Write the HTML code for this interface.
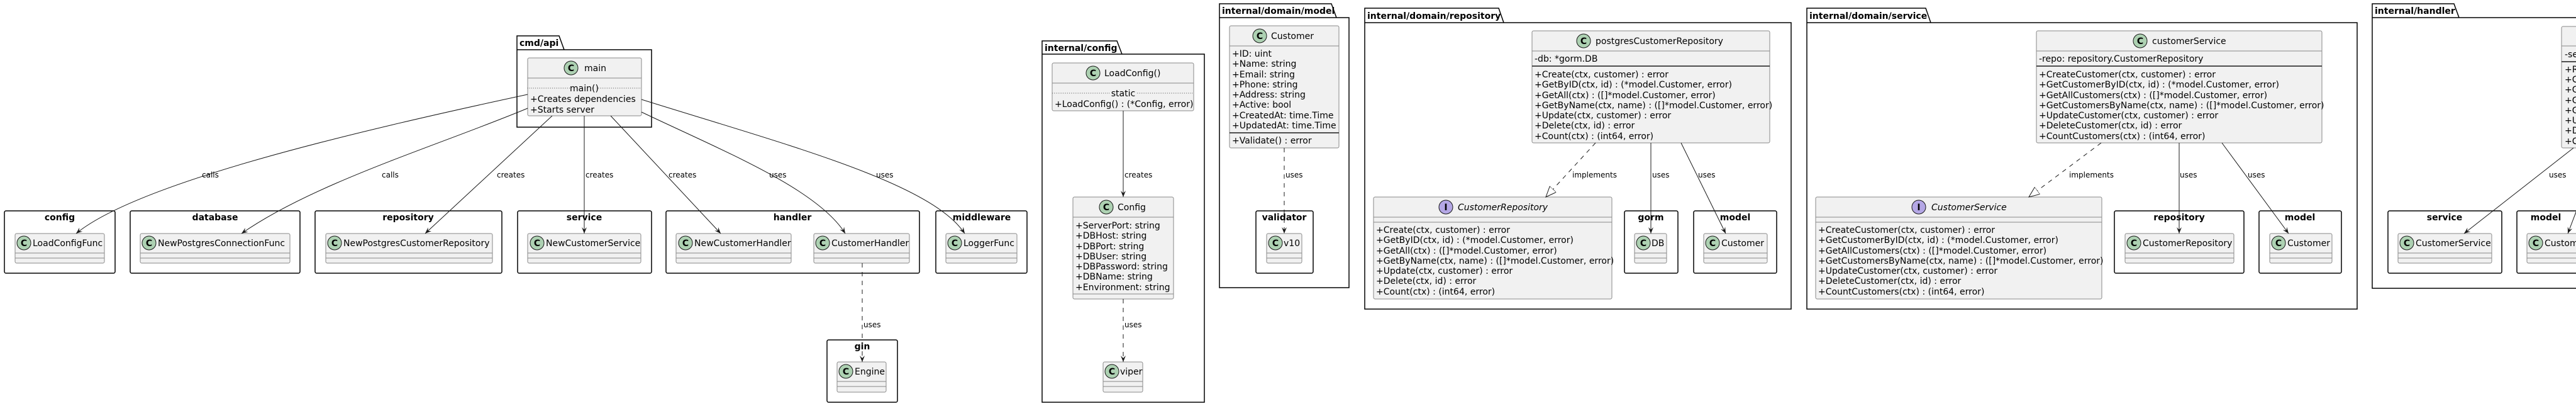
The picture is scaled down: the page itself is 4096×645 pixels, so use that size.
<!DOCTYPE html>
<html><head><meta charset="utf-8"><style>
html,body{margin:0;padding:0;background:#fff;width:4096px;height:645px;overflow:hidden}
svg{display:block}
text{font-family:"DejaVu Sans","Liberation Sans",sans-serif;fill:#000}
.t{font-size:14px}
.e{font-size:12px}
.p{font-size:14px;font-weight:bold}
.cls{fill:#F1F1F1;stroke:#888;stroke-width:1}
.sep{stroke:#888;stroke-width:1}
.thick{stroke:#181818;stroke-width:1.5}
.pkg{fill:none;stroke:#000;stroke-width:1.5}
.ci{fill:#ADD1B2;stroke:#181818;stroke-width:1}
.ii{fill:#B4A7E5;stroke:#181818;stroke-width:1}
.cl{font-size:14px;font-weight:bold;text-anchor:middle}
.edge{fill:none;stroke:#181818;stroke-width:1}
.dash{fill:none;stroke:#181818;stroke-width:1;stroke-dasharray:7,7}
.dot{stroke:#555;stroke-width:1;stroke-dasharray:1,2}
</style></head><body>
<svg width="4096" height="645" viewBox="0 0 4096 645" xmlns="http://www.w3.org/2000/svg">
<defs>
<marker id="a" markerWidth="12" markerHeight="10" refX="10" refY="4" orient="auto" markerUnits="userSpaceOnUse"><path d="M0,0 L10,4 L0,8 L4,4 Z" fill="#181818"/></marker>
<marker id="h" markerWidth="20" markerHeight="16" refX="17" refY="7" orient="auto" markerUnits="userSpaceOnUse"><path d="M0,0 L17,7 L0,14 Z" fill="#fff" stroke="#181818"/></marker>
</defs>

<!-- simple packages -->
<g>
<rect class="pkg" x="7" y="335" width="176" height="99" rx="2.5"/><text class="p" x="95" y="350" text-anchor="middle">config</text>
<rect class="pkg" x="207" y="335" width="270" height="99" rx="2.5"/><text class="p" x="342" y="350" text-anchor="middle">database</text>
<rect class="pkg" x="501" y="335" width="297" height="99" rx="2.5"/><text class="p" x="649" y="350" text-anchor="middle">repository</text>
<rect class="pkg" x="823" y="335" width="213" height="99" rx="2.5"/><text class="p" x="929" y="350" text-anchor="middle">service</text>
<rect class="pkg" x="1059" y="335" width="403" height="99" rx="2.5"/><text class="p" x="1260" y="350" text-anchor="middle">handler</text>
<rect class="pkg" x="1488" y="335" width="145" height="99" rx="2.5"/><text class="p" x="1561" y="350" text-anchor="middle">middleware</text>
<rect class="pkg" x="1315" y="540" width="112" height="99" rx="2.5"/><text class="p" x="1371" y="555" text-anchor="middle">gin</text>
<rect class="pkg" x="1997" y="335" width="91" height="99" rx="2.5"/><text class="p" x="2042" y="350" text-anchor="middle">validator</text>
<rect class="pkg" x="2583" y="335" width="85" height="99" rx="2.5"/><text class="p" x="2625" y="350" text-anchor="middle">gorm</text>
<rect class="pkg" x="2693" y="335" width="132" height="99" rx="2.5"/><text class="p" x="2759" y="350" text-anchor="middle">model</text>
<rect class="pkg" x="3362" y="335" width="206" height="99" rx="2.5"/><text class="p" x="3465" y="350" text-anchor="middle">repository</text>
<rect class="pkg" x="3592" y="335" width="131" height="99" rx="2.5"/><text class="p" x="3657" y="350" text-anchor="middle">model</text>
<rect class="pkg" x="3797" y="335" width="181" height="99" rx="2.5"/><text class="p" x="3887" y="350" text-anchor="middle">service</text>
<rect class="pkg" x="4002" y="335" width="150" height="99" rx="2.5"/><text class="p" x="4048" y="350" text-anchor="middle">model</text>
</g>

<!-- tab packages -->
<g>
<path class="pkg" d="M822,79 L822,57 L889,57 L897,79 M822,79 L1036,79 L1036,202 L822,202 Z"/><text class="p" x="826" y="73">cmd/api</text>
<path class="pkg" d="M1657,86 L1657,65 L1776,65 L1784,86 M1657,86 L1915,86 L1915,639 L1657,639 Z"/><text class="p" x="1661" y="81">internal/config</text>
<path class="pkg" d="M1939,28 L1939,6 L2117,6 L2125,28 M1939,28 L2145,28 L2145,457 L1939,457 Z"/><text class="p" x="1943" y="22">internal/domain/model</text>
<path class="pkg" d="M2170,36 L2170,13 L2383,13 L2391,36 M2170,36 L2848,36 L2848,491 L2170,491 Z"/><text class="p" x="2174" y="30">internal/domain/repository</text>
<path class="pkg" d="M2873,36 L2873,13 L3062,13 L3070,36 M2873,36 L3748,36 L3748,491 L2873,491 Z"/><text class="p" x="2877" y="30">internal/domain/service</text>
<path class="pkg" d="M3772,28 L3772,6 L3902,6 L3910,28 M3772,28 L4150,28 L4150,458 L3772,458 Z"/><text class="p" x="3776" y="22">internal/handler</text>
</g>

<!-- empty classes -->
<g>
<rect class="cls" x="24" y="371" width="142" height="47" rx="2.5"/><line class="sep" x1="24" y1="402" x2="166" y2="402"/><line class="sep" x1="24" y1="410" x2="166" y2="410"/><circle class="ci" cx="38" cy="386" r="11"/><text class="cl" x="38" y="391">C</text><text class="t" x="52" y="391">LoadConfigFunc</text>
<rect class="cls" x="223" y="371" width="238" height="47" rx="2.5"/><line class="sep" x1="223" y1="402" x2="461" y2="402"/><line class="sep" x1="223" y1="410" x2="461" y2="410"/><circle class="ci" cx="237" cy="386" r="11"/><text class="cl" x="237" y="391">C</text><text class="t" x="251" y="391">NewPostgresConnectionFunc</text>
<rect class="cls" x="518" y="371" width="265" height="47" rx="2.5"/><line class="sep" x1="518" y1="402" x2="783" y2="402"/><line class="sep" x1="518" y1="410" x2="783" y2="410"/><circle class="ci" cx="532" cy="386" r="11"/><text class="cl" x="532" y="391">C</text><text class="t" x="546" y="391">NewPostgresCustomerRepository</text>
<rect class="cls" x="839" y="371" width="180" height="47" rx="2.5"/><line class="sep" x1="839" y1="402" x2="1019" y2="402"/><line class="sep" x1="839" y1="410" x2="1019" y2="410"/><circle class="ci" cx="854" cy="386" r="11"/><text class="cl" x="854" y="391">C</text><text class="t" x="868" y="391">NewCustomerService</text>
<rect class="cls" x="1075" y="371" width="183" height="47" rx="2.5"/><line class="sep" x1="1075" y1="402" x2="1258" y2="402"/><line class="sep" x1="1075" y1="410" x2="1258" y2="410"/><circle class="ci" cx="1090" cy="386" r="11"/><text class="cl" x="1090" y="391">C</text><text class="t" x="1104" y="391">NewCustomerHandler</text>
<rect class="cls" x="1294" y="371" width="152" height="47" rx="2.5"/><line class="sep" x1="1294" y1="402" x2="1446" y2="402"/><line class="sep" x1="1294" y1="410" x2="1446" y2="410"/><circle class="ci" cx="1308" cy="386" r="11"/><text class="cl" x="1308" y="391">C</text><text class="t" x="1322" y="391">CustomerHandler</text>
<rect class="cls" x="1504" y="371" width="113" height="47" rx="2.5"/><line class="sep" x1="1504" y1="402" x2="1617" y2="402"/><line class="sep" x1="1504" y1="410" x2="1617" y2="410"/><circle class="ci" cx="1518" cy="386" r="11"/><text class="cl" x="1518" y="391">C</text><text class="t" x="1532" y="391">LoggerFunc</text>
<rect class="cls" x="1331" y="575" width="78" height="48" rx="2.5"/><line class="sep" x1="1331" y1="606" x2="1409" y2="606"/><line class="sep" x1="1331" y1="614" x2="1409" y2="614"/><circle class="ci" cx="1345" cy="590" r="11"/><text class="cl" x="1345" y="595">C</text><text class="t" x="1359" y="595">Engine</text>
<rect class="cls" x="1754" y="575" width="63" height="48" rx="2.5"/><line class="sep" x1="1754" y1="606" x2="1817" y2="606"/><line class="sep" x1="1754" y1="614" x2="1817" y2="614"/><circle class="ci" cx="1768" cy="590" r="11"/><text class="cl" x="1768" y="595">C</text><text class="t" x="1781" y="595">viper</text>
<rect class="cls" x="2014" y="371" width="56" height="47" rx="2.5"/><line class="sep" x1="2014" y1="402" x2="2070" y2="402"/><line class="sep" x1="2014" y1="410" x2="2070" y2="410"/><circle class="ci" cx="2028" cy="386" r="11"/><text class="cl" x="2028" y="391">C</text><text class="t" x="2041" y="391">v10</text>
<rect class="cls" x="2599" y="371" width="51" height="47" rx="2.5"/><line class="sep" x1="2599" y1="402" x2="2650" y2="402"/><line class="sep" x1="2599" y1="410" x2="2650" y2="410"/><circle class="ci" cx="2613" cy="386" r="11"/><text class="cl" x="2613" y="391">C</text><text class="t" x="2626" y="391">DB</text>
<rect class="cls" x="2709" y="371" width="101" height="47" rx="2.5"/><line class="sep" x1="2709" y1="402" x2="2810" y2="402"/><line class="sep" x1="2709" y1="410" x2="2810" y2="410"/><circle class="ci" cx="2723" cy="386" r="11"/><text class="cl" x="2723" y="391">C</text><text class="t" x="2737" y="391">Customer</text>
<rect class="cls" x="3379" y="371" width="173" height="47" rx="2.5"/><line class="sep" x1="3379" y1="402" x2="3552" y2="402"/><line class="sep" x1="3379" y1="410" x2="3552" y2="410"/><circle class="ci" cx="3393" cy="386" r="11"/><text class="cl" x="3393" y="391">C</text><text class="t" x="3407" y="391">CustomerRepository</text>
<rect class="cls" x="3609" y="371" width="99" height="47" rx="2.5"/><line class="sep" x1="3609" y1="402" x2="3708" y2="402"/><line class="sep" x1="3609" y1="410" x2="3708" y2="410"/><circle class="ci" cx="3623" cy="386" r="11"/><text class="cl" x="3623" y="391">C</text><text class="t" x="3637" y="391">Customer</text>
<rect class="cls" x="3813" y="371" width="149" height="47" rx="2.5"/><line class="sep" x1="3813" y1="402" x2="3962" y2="402"/><line class="sep" x1="3813" y1="410" x2="3962" y2="410"/><circle class="ci" cx="3827" cy="386" r="11"/><text class="cl" x="3827" y="391">C</text><text class="t" x="3841" y="391">CustomerService</text>
<rect class="cls" x="4018" y="371" width="101" height="47" rx="2.5"/><line class="sep" x1="4018" y1="402" x2="4119" y2="402"/><line class="sep" x1="4018" y1="410" x2="4119" y2="410"/><circle class="ci" cx="4032" cy="386" r="11"/><text class="cl" x="4032" y="391">C</text><text class="t" x="4046" y="391">Customer</text>
</g>

<!-- main -->
<rect class="cls" x="839" y="92" width="181" height="92" rx="2.5"/>
<line class="sep" x1="839" y1="124" x2="1020" y2="124"/>
<circle class="ci" cx="908" cy="108" r="11"/><text class="cl" x="908" y="113">C</text><text class="t" x="929" y="113">main</text>
<line class="dot" x1="839" y1="140" x2="907" y2="140"/><line class="dot" x1="951" y1="140" x2="1020" y2="140"/>
<text class="t" x="929" y="145" text-anchor="middle">main()</text>
<text class="t" x="843" y="162">+Creates dependencies</text>
<text class="t" x="843" y="179">+Starts server</text>

<!-- LoadConfig() -->
<rect class="cls" x="1673" y="100" width="225" height="76" rx="2.5"/>
<line class="sep" x1="1673" y1="132" x2="1898" y2="132"/>
<circle class="ci" cx="1738" cy="116" r="11"/><text class="cl" x="1738" y="121">C</text><text class="t" x="1756" y="121">LoadConfig()</text>
<line class="dot" x1="1673" y1="148" x2="1765" y2="148"/><line class="dot" x1="1808" y1="148" x2="1898" y2="148"/>
<text class="t" x="1786" y="153" text-anchor="middle">static</text>
<text class="t" x="1677" y="170">+LoadConfig() : (*Config, error)</text>

<!-- Config -->
<rect class="cls" x="1706" y="313" width="160" height="162" rx="2.5"/>
<line class="sep" x1="1706" y1="345" x2="1866" y2="345"/>
<line class="sep" x1="1706" y1="467" x2="1866" y2="467"/>
<circle class="ci" cx="1759" cy="329" r="11"/><text class="cl" x="1759" y="334">C</text><text class="t" x="1777" y="334">Config</text>
<text class="t" x="1710" y="363">+ServerPort: string</text>
<text class="t" x="1710" y="379">+DBHost: string</text>
<text class="t" x="1710" y="396">+DBPort: string</text>
<text class="t" x="1710" y="412">+DBUser: string</text>
<text class="t" x="1710" y="428">+DBPassword: string</text>
<text class="t" x="1710" y="444">+DBName: string</text>
<text class="t" x="1710" y="461">+Environment: string</text>

<!-- Customer model -->
<rect class="cls" x="1955" y="41" width="174" height="194" rx="2.5"/>
<line class="sep" x1="1955" y1="73" x2="2129" y2="73"/>
<line class="thick" x1="1955" y1="211" x2="2129" y2="211"/>
<circle class="ci" cx="2003" cy="57" r="11"/><text class="cl" x="2003" y="62">C</text><text class="t" x="2021" y="62">Customer</text>
<text class="t" x="1959" y="90">+ID: uint</text>
<text class="t" x="1959" y="106">+Name: string</text>
<text class="t" x="1959" y="123">+Email: string</text>
<text class="t" x="1959" y="139">+Phone: string</text>
<text class="t" x="1959" y="155">+Address: string</text>
<text class="t" x="1959" y="171">+Active: bool</text>
<text class="t" x="1959" y="188">+CreatedAt: time.Time</text>
<text class="t" x="1959" y="204">+UpdatedAt: time.Time</text>
<text class="t" x="1959" y="228">+Validate() : error</text>

<!-- postgresCustomerRepository -->
<rect class="cls" x="2436" y="49" width="378" height="178" rx="2.5"/>
<line class="sep" x1="2436" y1="81" x2="2814" y2="81"/>
<line class="thick" x1="2436" y1="105" x2="2814" y2="105"/>
<circle class="ci" cx="2518" cy="65" r="11"/><text class="cl" x="2518" y="70">C</text><text class="t" x="2537" y="70">postgresCustomerRepository</text>
<text class="t" x="2440" y="98">-db: *gorm.DB</text>
<text class="t" x="2440" y="123">+Create(ctx, customer) : error</text>
<text class="t" x="2440" y="139">+GetByID(ctx, id) : (*model.Customer, error)</text>
<text class="t" x="2440" y="156">+GetAll(ctx) : ([]*model.Customer, error)</text>
<text class="t" x="2440" y="172">+GetByName(ctx, name) : ([]*model.Customer, error)</text>
<text class="t" x="2440" y="188">+Update(ctx, customer) : error</text>
<text class="t" x="2440" y="204">+Delete(ctx, id) : error</text>
<text class="t" x="2440" y="221">+Count(ctx) : (int64, error)</text>

<!-- CustomerRepository interface -->
<rect class="cls" x="2184" y="313" width="379" height="162" rx="2.5"/>
<line class="sep" x1="2184" y1="345" x2="2563" y2="345"/>
<line class="sep" x1="2184" y1="353" x2="2563" y2="353"/>
<circle class="ii" cx="2299" cy="329" r="11"/><text class="cl" x="2299" y="334">I</text><text class="t" x="2318" y="334" font-style="italic">CustomerRepository</text>
<text class="t" x="2188" y="370">+Create(ctx, customer) : error</text>
<text class="t" x="2188" y="386">+GetByID(ctx, id) : (*model.Customer, error)</text>
<text class="t" x="2188" y="403">+GetAll(ctx) : ([]*model.Customer, error)</text>
<text class="t" x="2188" y="419">+GetByName(ctx, name) : ([]*model.Customer, error)</text>
<text class="t" x="2188" y="435">+Update(ctx, customer) : error</text>
<text class="t" x="2188" y="451">+Delete(ctx, id) : error</text>
<text class="t" x="2188" y="468">+Count(ctx) : (int64, error)</text>

<!-- customerService -->
<rect class="cls" x="3238" y="49" width="454" height="178" rx="2.5"/>
<line class="sep" x1="3238" y1="81" x2="3692" y2="81"/>
<line class="thick" x1="3238" y1="105" x2="3692" y2="105"/>
<circle class="ci" cx="3403" cy="65" r="11"/><text class="cl" x="3403" y="70">C</text><text class="t" x="3422" y="70">customerService</text>
<text class="t" x="3242" y="98">-repo: repository.CustomerRepository</text>
<text class="t" x="3242" y="123">+CreateCustomer(ctx, customer) : error</text>
<text class="t" x="3242" y="139">+GetCustomerByID(ctx, id) : (*model.Customer, error)</text>
<text class="t" x="3242" y="156">+GetAllCustomers(ctx) : ([]*model.Customer, error)</text>
<text class="t" x="3242" y="172">+GetCustomersByName(ctx, name) : ([]*model.Customer, error)</text>
<text class="t" x="3242" y="188">+UpdateCustomer(ctx, customer) : error</text>
<text class="t" x="3242" y="204">+DeleteCustomer(ctx, id) : error</text>
<text class="t" x="3242" y="221">+CountCustomers(ctx) : (int64, error)</text>

<!-- CustomerService interface -->
<rect class="cls" x="2887" y="313" width="455" height="162" rx="2.5"/>
<line class="sep" x1="2887" y1="345" x2="3342" y2="345"/>
<line class="sep" x1="2887" y1="353" x2="3342" y2="353"/>
<circle class="ii" cx="3051" cy="329" r="11"/><text class="cl" x="3051" y="334">I</text><text class="t" x="3071" y="334" font-style="italic">CustomerService</text>
<text class="t" x="2891" y="370">+CreateCustomer(ctx, customer) : error</text>
<text class="t" x="2891" y="386">+GetCustomerByID(ctx, id) : (*model.Customer, error)</text>
<text class="t" x="2891" y="403">+GetAllCustomers(ctx) : ([]*model.Customer, error)</text>
<text class="t" x="2891" y="419">+GetCustomersByName(ctx, name) : ([]*model.Customer, error)</text>
<text class="t" x="2891" y="435">+UpdateCustomer(ctx, customer) : error</text>
<text class="t" x="2891" y="451">+DeleteCustomer(ctx, id) : error</text>
<text class="t" x="2891" y="468">+CountCustomers(ctx) : (int64, error)</text>

<!-- handler class (clipped) -->
<rect class="cls" x="4073" y="42" width="200" height="193" rx="2.5"/>
<line class="sep" x1="4073" y1="73" x2="4273" y2="73"/>
<line class="thick" x1="4073" y1="98" x2="4273" y2="98"/>
<text class="t" x="4078" y="91">-service</text>
<text class="t" x="4078" y="115">+RegisterRoutes</text>
<text class="t" x="4078" y="131">+CreateCustomer</text>
<text class="t" x="4078" y="147">+GetCustomer</text>
<text class="t" x="4078" y="164">+GetAll</text>
<text class="t" x="4078" y="180">+GetByName</text>
<text class="t" x="4078" y="196">+Update</text>
<text class="t" x="4078" y="212">+Delete</text>
<text class="t" x="4078" y="229">+Count</text>

<!-- edges -->
<g>
<path class="edge" marker-end="url(#a)" d="M839,150 C560,210 220,290 121,371"/>
<path class="edge" marker-end="url(#a)" d="M839,172 C700,230 500,290 384,371"/>
<path class="edge" marker-end="url(#a)" d="M878,184 L676,371"/>
<path class="edge" marker-end="url(#a)" d="M929,184 L929,371"/>
<path class="edge" marker-end="url(#a)" d="M971,184 L1146,371"/>
<path class="edge" marker-end="url(#a)" d="M1020,178 C1150,240 1300,300 1344,371"/>
<path class="edge" marker-end="url(#a)" d="M1020,158 C1250,230 1480,290 1534,371"/>
<path class="dash" marker-end="url(#a)" d="M1371,418 L1371,575"/>
<path class="edge" marker-end="url(#a)" d="M1786,176 L1786,313"/>
<path class="dash" marker-end="url(#a)" d="M1786,475 L1786,575"/>
<path class="dash" marker-end="url(#a)" d="M2042,235 L2042,371"/>
<path class="dash" marker-end="url(#h)" d="M2537,227 L2458,313"/>
<path class="edge" marker-end="url(#a)" d="M2625,227 L2625,371"/>
<path class="edge" marker-end="url(#a)" d="M2673,227 L2744,371"/>
<path class="dash" marker-end="url(#h)" d="M3341,227 L3226,313"/>
<path class="edge" marker-end="url(#a)" d="M3465,227 L3465,371"/>
<path class="edge" marker-end="url(#a)" d="M3533,227 L3639,371"/>
<path class="edge" marker-end="url(#a)" d="M4092,235 L3918,371"/>
<path class="edge" marker-end="url(#a)" d="M4110,300 L4083,371"/>
</g>
<g class="lbl">
<text class="e" x="321" y="282">calls</text>
<text class="e" x="607" y="282">calls</text>
<text class="e" x="790" y="282">creates</text>
<text class="e" x="931" y="282">creates</text>
<text class="e" x="1063" y="282">creates</text>
<text class="e" x="1223" y="282">uses</text>
<text class="e" x="1393" y="282">uses</text>
<text class="e" x="1373" y="520">uses</text>
<text class="e" x="1788" y="282">creates</text>
<text class="e" x="1788" y="520">uses</text>
<text class="e" x="2044" y="282">uses</text>
<text class="e" x="2500" y="282">implements</text>
<text class="e" x="2627" y="282">uses</text>
<text class="e" x="2700" y="282">uses</text>
<text class="e" x="3290" y="282">implements</text>
<text class="e" x="3466" y="282">uses</text>
<text class="e" x="3574" y="282">uses</text>
<text class="e" x="4053" y="282">uses</text>
</g>
</svg>
</body></html>
